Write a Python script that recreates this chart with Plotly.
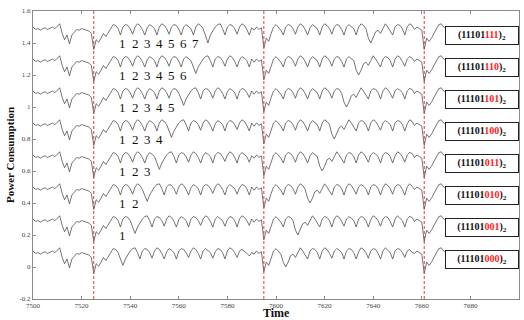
import plotly.graph_objects as go

# ---------------- data ----------------
CODES = ["000", "001", "010", "011", "100", "101", "110", "111"]
RED_TIMES = [7525, 7595, 7661]
LABEL_TIMES = [7537, 7542, 7547, 7552, 7557, 7562, 7567]
X_TICKS = [7500, 7520, 7540, 7560, 7580, 7600, 7620, 7640, 7660, 7680, 7700]
Y_TICKS = [-0.2, 0, 0.2, 0.4, 0.6, 0.8, 1.0, 1.2, 1.4, 1.6]
Y_TICK_TEXT = ["-0.2", "0", "0.2", "0.4", "0.6", "0.8", "1", "1.2", "1.4", "1.6"]

# shared part, t = 7500..7530
PREFIX = [0.10, 0.085, 0.09, 0.08, 0.09, 0.095, 0.085, 0.095, 0.10, 0.09, 0.105,
          0.12, 0.06, 0.02, 0.05, -0.005, 0.05, 0.07, 0.085, 0.08, 0.09, 0.085,
          0.08, 0.075, 0.06, -0.04, 0.02, 0.005, 0.03, 0.06, 0.04]

# per series, t = 7531..7594
R1_000 = [0.07, 0.09, 0.115, 0.11, 0.09,
          0.05, 0.01, 0.05, 0.08, 0.10, 0.115, 0.12, 0.09,
          0.05, 0.10, 0.115, 0.11, 0.09, 0.055, 0.10, 0.12, 0.11, 0.085, 0.05, 0.095, 0.115, 0.105, 0.09,
          0.05, 0.10, 0.115, 0.11, 0.09, 0.06, 0.10, 0.12, 0.11, 0.085, 0.05, 0.10, 0.115, 0.105, 0.09,
          0.055, 0.095, 0.115, 0.11, 0.09, 0.05, 0.10, 0.12, 0.11, 0.09, 0.06, 0.10, 0.11, 0.10, 0.085,
          0.07, 0.09,
          0.08, 0.10, 0.085, 0.095]
R1_001 = [0.07, 0.09, 0.115, 0.11, 0.09,
          0.05, 0.10, 0.115, 0.11, 0.09,
          0.05, 0.01, 0.05, 0.08, 0.10, 0.115, 0.12, 0.09,
          0.05, 0.10, 0.115, 0.11, 0.09, 0.055, 0.10, 0.12, 0.11, 0.085, 0.05, 0.095, 0.115, 0.105, 0.09,
          0.05, 0.10, 0.115, 0.11, 0.09, 0.06, 0.10, 0.12, 0.11, 0.085, 0.05, 0.10, 0.115, 0.105, 0.09,
          0.055, 0.095, 0.115, 0.11, 0.09, 0.05, 0.10, 0.12, 0.11, 0.09,
          0.06, 0.10,
          0.08, 0.10, 0.085, 0.095]
R1_010 = [0.07, 0.09, 0.115, 0.11, 0.09,
          0.05, 0.10, 0.115, 0.11, 0.09, 0.055, 0.10, 0.12, 0.11, 0.085,
          0.05, 0.01, 0.05, 0.08, 0.10, 0.115, 0.12, 0.09,
          0.05, 0.10, 0.115, 0.11, 0.09, 0.055, 0.10, 0.12, 0.11, 0.085, 0.05, 0.095, 0.115, 0.105, 0.09,
          0.05, 0.10, 0.115, 0.11, 0.09, 0.06, 0.10, 0.12, 0.11, 0.085, 0.05, 0.10, 0.115, 0.105, 0.09,
          0.055, 0.095, 0.115, 0.11, 0.09,
          0.05, 0.10,
          0.08, 0.10, 0.085, 0.095]
R1_011 = [0.07, 0.09, 0.115, 0.11, 0.09,
          0.05, 0.10, 0.115, 0.11, 0.09, 0.055, 0.10, 0.12, 0.11, 0.085, 0.05, 0.095, 0.115, 0.105, 0.09,
          0.05, 0.01, 0.05, 0.08, 0.10, 0.115, 0.12, 0.09,
          0.05, 0.10, 0.115, 0.11, 0.09, 0.055, 0.10, 0.12, 0.11, 0.085, 0.05, 0.095, 0.115, 0.105, 0.09,
          0.05, 0.10, 0.115, 0.11, 0.09, 0.06, 0.10, 0.12, 0.11, 0.085, 0.05, 0.10, 0.115, 0.105, 0.09,
          0.055, 0.095,
          0.08, 0.10, 0.085, 0.095]
R1_100 = [0.07, 0.09, 0.115, 0.11, 0.09,
          0.05, 0.10, 0.115, 0.11, 0.09, 0.055, 0.10, 0.12, 0.11, 0.085, 0.05, 0.095, 0.115, 0.105, 0.09,
          0.05, 0.10, 0.12, 0.11, 0.09,
          0.05, 0.01, 0.05, 0.08, 0.10, 0.115, 0.12, 0.09,
          0.05, 0.10, 0.115, 0.11, 0.09, 0.055, 0.10, 0.12, 0.11, 0.085, 0.05, 0.095, 0.115, 0.105, 0.09,
          0.05, 0.10, 0.115, 0.11, 0.09, 0.06, 0.10, 0.12, 0.11, 0.085,
          0.05, 0.10,
          0.08, 0.10, 0.085, 0.095]
R1_101 = [0.07, 0.09, 0.115, 0.11, 0.09,
          0.05, 0.10, 0.115, 0.11, 0.09, 0.055, 0.10, 0.12, 0.11, 0.085, 0.05, 0.095, 0.115, 0.105, 0.09,
          0.05, 0.10, 0.12, 0.11, 0.09, 0.055, 0.10, 0.115, 0.11, 0.085,
          0.05, 0.01, 0.05, 0.08, 0.10, 0.115, 0.12, 0.09,
          0.05, 0.10, 0.115, 0.11, 0.09, 0.055, 0.10, 0.12, 0.11, 0.085, 0.05, 0.095, 0.115, 0.105, 0.09,
          0.05, 0.10, 0.115, 0.11, 0.09,
          0.06, 0.10,
          0.08, 0.10, 0.085, 0.095]
R1_110 = [0.07, 0.09, 0.115, 0.11, 0.09,
          0.05, 0.10, 0.115, 0.11, 0.09, 0.055, 0.10, 0.12, 0.11, 0.085, 0.05, 0.095, 0.115, 0.105, 0.09,
          0.05, 0.10, 0.12, 0.11, 0.09, 0.055, 0.10, 0.115, 0.11, 0.085, 0.05, 0.10, 0.115, 0.105, 0.09,
          0.05, 0.01, 0.05, 0.08, 0.10, 0.115, 0.12, 0.09,
          0.05, 0.10, 0.115, 0.11, 0.09, 0.055, 0.10, 0.12, 0.11, 0.085, 0.05, 0.095, 0.115, 0.105, 0.09,
          0.05, 0.10,
          0.08, 0.10, 0.085, 0.095]
R1_111 = [0.07, 0.09, 0.115, 0.11, 0.09,
          0.05, 0.10, 0.115, 0.11, 0.09, 0.055, 0.10, 0.12, 0.11, 0.085, 0.05, 0.095, 0.115, 0.105, 0.09,
          0.05, 0.10, 0.12, 0.11, 0.09, 0.055, 0.10, 0.115, 0.11, 0.085, 0.05, 0.10, 0.115, 0.105, 0.09,
          0.05, 0.10, 0.12, 0.11, 0.09,
          0.05, 0.00, 0.05, 0.08, 0.10, 0.115, 0.12, 0.09,
          0.05, 0.10, 0.115, 0.11, 0.09, 0.055, 0.10, 0.12, 0.11, 0.085,
          0.05, 0.095,
          0.08, 0.10, 0.085, 0.095]

# per series, t = 7595..7660
R2_000 = [-0.03, 0.03, 0.01, 0.06, 0.10, 0.115, 0.10, 0.08,
          0.03, 0.0, 0.03, 0.07, 0.08, 0.06, 0.09, 0.12,
          0.10, 0.07,
          0.05, 0.10, 0.115, 0.11, 0.09, 0.05, 0.10, 0.12, 0.11, 0.085, 0.055, 0.10, 0.115, 0.105, 0.09,
          0.05, 0.10, 0.115, 0.11, 0.09, 0.05, 0.095, 0.12, 0.11, 0.09, 0.055, 0.10, 0.115, 0.11, 0.085,
          0.05, 0.10, 0.12, 0.105, 0.09, 0.05, 0.10, 0.115, 0.11, 0.09,
          0.06, 0.10, 0.11, 0.09,
          0.085, 0.10, 0.09, 0.08]
R2_001 = [-0.03, 0.03, 0.01, 0.06, 0.10, 0.115, 0.10, 0.08,
          0.05, 0.10, 0.115, 0.11, 0.09,
          0.03, 0.0, 0.03, 0.07, 0.08, 0.06, 0.09, 0.12,
          0.10, 0.07,
          0.05, 0.10, 0.115, 0.11, 0.09, 0.05, 0.10, 0.12, 0.11, 0.085, 0.055, 0.10, 0.115, 0.105, 0.09,
          0.05, 0.10, 0.115, 0.11, 0.09, 0.05, 0.095, 0.12, 0.11, 0.09, 0.055, 0.10, 0.115, 0.11, 0.085,
          0.05, 0.10, 0.12, 0.105, 0.09,
          0.05, 0.10, 0.115, 0.11,
          0.085, 0.10, 0.09, 0.08]
R2_010 = [-0.03, 0.03, 0.01, 0.06, 0.10, 0.115, 0.10, 0.08,
          0.05, 0.10, 0.115, 0.11, 0.09, 0.055, 0.10, 0.12, 0.11, 0.085,
          0.03, 0.0, 0.03, 0.07, 0.08, 0.06, 0.09, 0.12,
          0.10, 0.07,
          0.05, 0.10, 0.115, 0.11, 0.09, 0.05, 0.10, 0.12, 0.11, 0.085, 0.055, 0.10, 0.115, 0.105, 0.09,
          0.05, 0.10, 0.115, 0.11, 0.09, 0.05, 0.095, 0.12, 0.11, 0.09, 0.055, 0.10, 0.115, 0.11, 0.085,
          0.05, 0.10, 0.12, 0.105,
          0.085, 0.10, 0.09, 0.08]
R2_011 = [-0.03, 0.03, 0.01, 0.06, 0.10, 0.115, 0.10, 0.08,
          0.05, 0.10, 0.115, 0.11, 0.09, 0.055, 0.10, 0.12, 0.11, 0.085, 0.05, 0.095, 0.115, 0.105, 0.09,
          0.03, 0.0, 0.03, 0.07, 0.08, 0.06, 0.09, 0.12,
          0.10, 0.07,
          0.05, 0.10, 0.115, 0.11, 0.09, 0.05, 0.10, 0.12, 0.11, 0.085, 0.055, 0.10, 0.115, 0.105, 0.09,
          0.05, 0.10, 0.115, 0.11, 0.09, 0.05, 0.095, 0.12, 0.11, 0.09,
          0.055, 0.10, 0.115, 0.11,
          0.085, 0.10, 0.09, 0.08]
R2_100 = [-0.03, 0.03, 0.01, 0.06, 0.10, 0.115, 0.10, 0.08,
          0.05, 0.10, 0.115, 0.11, 0.09, 0.055, 0.10, 0.12, 0.11, 0.085, 0.05, 0.095, 0.115, 0.105, 0.09,
          0.05, 0.10, 0.12, 0.11, 0.09,
          0.03, 0.0, 0.03, 0.07, 0.08, 0.06, 0.09, 0.12,
          0.10, 0.07,
          0.05, 0.10, 0.115, 0.11, 0.09, 0.05, 0.10, 0.12, 0.11, 0.085, 0.055, 0.10, 0.115, 0.105, 0.09,
          0.05, 0.10, 0.115, 0.11, 0.09,
          0.05, 0.095, 0.12, 0.11,
          0.085, 0.10, 0.09, 0.08]
R2_101 = [-0.03, 0.03, 0.01, 0.06, 0.10, 0.115, 0.10, 0.08,
          0.05, 0.10, 0.115, 0.11, 0.09, 0.055, 0.10, 0.12, 0.11, 0.085, 0.05, 0.095, 0.115, 0.105, 0.09,
          0.05, 0.10, 0.12, 0.11, 0.09, 0.055, 0.10, 0.115, 0.11, 0.085,
          0.03, 0.0, 0.03, 0.07, 0.08, 0.06, 0.09, 0.12,
          0.10, 0.07,
          0.05, 0.10, 0.115, 0.11, 0.09, 0.05, 0.10, 0.12, 0.11, 0.085, 0.055, 0.10, 0.115, 0.105, 0.09,
          0.05, 0.10, 0.115, 0.11,
          0.085, 0.10, 0.09, 0.08]
R2_110 = [-0.03, 0.03, 0.01, 0.06, 0.10, 0.115, 0.10, 0.08,
          0.05, 0.10, 0.115, 0.11, 0.09, 0.055, 0.10, 0.12, 0.11, 0.085, 0.05, 0.095, 0.115, 0.105, 0.09,
          0.05, 0.10, 0.12, 0.11, 0.09, 0.055, 0.10, 0.115, 0.11, 0.085, 0.05, 0.10, 0.115, 0.105, 0.09,
          0.03, 0.0, 0.03, 0.07, 0.08, 0.06, 0.09, 0.12,
          0.10, 0.07,
          0.05, 0.10, 0.115, 0.11, 0.09, 0.05, 0.10, 0.12, 0.11, 0.085,
          0.055, 0.10, 0.115, 0.105,
          0.085, 0.10, 0.09, 0.08]
R2_111 = [-0.03, 0.03, 0.01, 0.06, 0.10, 0.115, 0.10, 0.08,
          0.05, 0.10, 0.115, 0.11, 0.09, 0.055, 0.10, 0.12, 0.11, 0.085, 0.05, 0.095, 0.115, 0.105, 0.09,
          0.05, 0.10, 0.12, 0.11, 0.09, 0.055, 0.10, 0.115, 0.11, 0.085, 0.05, 0.10, 0.115, 0.105, 0.09,
          0.05, 0.10, 0.12, 0.11, 0.09,
          0.03, 0.0, 0.03, 0.07, 0.08, 0.06, 0.09, 0.12,
          0.10, 0.07,
          0.05, 0.10, 0.115, 0.11, 0.09,
          0.05, 0.10, 0.12, 0.11,
          0.085, 0.10, 0.09, 0.08]

# shared part, t = 7661..7670
TAIL = [-0.04, 0.03, 0.01, 0.03, 0.06, 0.09, 0.115, 0.12, 0.10, 0.09]

REGION1 = {"000": R1_000, "001": R1_001, "010": R1_010, "011": R1_011,
           "100": R1_100, "101": R1_101, "110": R1_110, "111": R1_111}
REGION2 = {"000": R2_000, "001": R2_001, "010": R2_010, "011": R2_011,
           "100": R2_100, "101": R2_101, "110": R2_110, "111": R2_111}

for c in CODES:
    assert len(REGION1[c]) == 64, (c, len(REGION1[c]))
    assert len(REGION2[c]) == 66, (c, len(REGION2[c]))

# ---------------- styling / layout ----------------
T0 = 7500
STACK_STEP = 0.2
SERIF = "Liberation Serif, Times New Roman, serif"
LINE_COLOR = "#505050"
AXIS_COLOR = "#8a8a8a"

fig = go.Figure()
for k, code in enumerate(CODES):
    vals = PREFIX + REGION1[code] + REGION2[code] + TAIL
    t = list(range(T0, T0 + len(vals)))
    y = [v + STACK_STEP * k for v in vals]
    fig.add_trace(go.Scatter(x=t, y=y, mode="lines",
                             line=dict(color=LINE_COLOR, width=0.8),
                             showlegend=False, hoverinfo="skip"))

shapes = []
for rt in RED_TIMES:
    shapes.append(dict(type="line", xref="x", yref="paper", x0=rt, x1=rt, y0=0, y1=1,
                       line=dict(color="#e8353a", width=1, dash="3px,2px")))

annotations = []
for k, code in enumerate(CODES):
    # bit-pattern box
    annotations.append(dict(
        xref="paper", yref="y", x=1.0, xanchor="right", y=STACK_STEP * k + 0.05, yanchor="middle",
        text="<b>(11101<span style='color:#ff1a1a'>%s</span>)<sub>2</sub></b>" % code,
        showarrow=False, font=dict(family=SERIF, size=10, color="#111111"),
        bgcolor="white", bordercolor="#222222", borderwidth=1, borderpad=1,
        width=70, height=15, align="center", valign="middle"))
    # digit labels
    for j in range(k):
        annotations.append(dict(
            xref="x", yref="y", x=LABEL_TIMES[j], y=STACK_STEP * k - 0.005,
            text=str(j + 1), showarrow=False,
            font=dict(family=SERIF, size=13, color="#111111"),
            xanchor="center", yanchor="middle"))

annotations.append(dict(xref="paper", yref="paper", x=0, y=0.5, xshift=-23,
                        text="<b>Power Consumption</b>", textangle=-90, showarrow=False,
                        font=dict(family=SERIF, size=11, color="#111111"),
                        xanchor="center", yanchor="middle"))
annotations.append(dict(xref="paper", yref="paper", x=0.5, y=0, yshift=-14,
                        text="<b>Time</b>", showarrow=False,
                        font=dict(family=SERIF, size=12, color="#111111"),
                        xanchor="center", yanchor="middle"))

axis_common = dict(showgrid=False, zeroline=False, showline=True, linecolor=AXIS_COLOR,
                   linewidth=1, mirror="ticks", ticks="inside", ticklen=3,
                   tickcolor=AXIS_COLOR, tickwidth=1,
                   tickfont=dict(family=SERIF, size=7, color="#444444"))

fig.update_layout(
    width=524, height=320,
    margin=dict(l=33, r=5, t=11, b=21),
    plot_bgcolor="white", paper_bgcolor="white",
    xaxis=dict(range=[7500, 7700], tickvals=X_TICKS, **axis_common),
    yaxis=dict(range=[-0.2, 1.6], tickvals=Y_TICKS, ticktext=Y_TICK_TEXT, **axis_common),
    shapes=shapes, annotations=annotations,
)

# remove the default page margin so the 524x320 figure fills the window exactly
fig.write_html("out.html", config={"displayModeBar": False},
               post_script="document.body.style.margin='0px';")
